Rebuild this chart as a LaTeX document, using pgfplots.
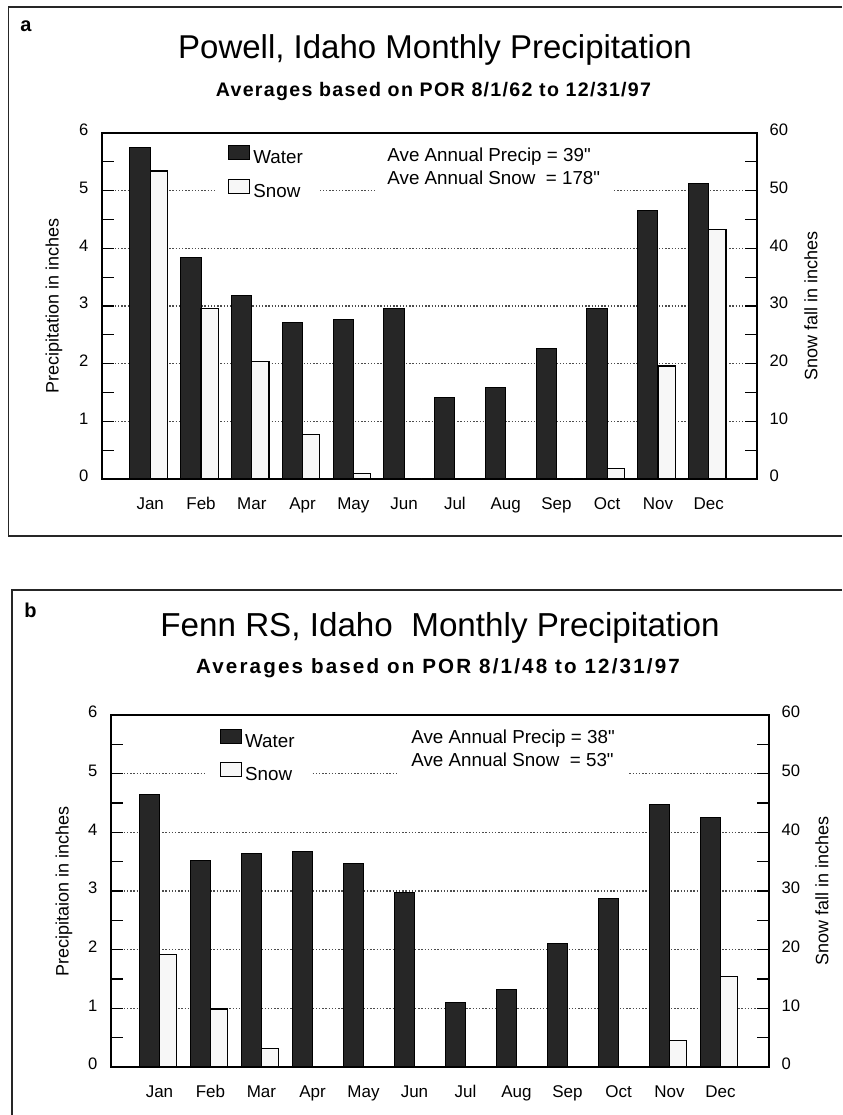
\documentclass[border=0pt]{standalone}
\usepackage{fontspec}
\setmainfont{Liberation Sans}
\newfontfamily\plainfont{Liberation Sans}
\newfontfamily\subA[LetterSpace=6.6]{Liberation Sans}
\newfontfamily\subB[LetterSpace=10.5]{Liberation Sans}
\usepackage{pgfplots}
\usepackage{pgfplotstable}
\pgfplotsset{compat=1.18}

\pgfplotstableread{
m water snow
0 5.75 53.4
1 3.84 29.6
2 3.19 20.4
3 2.72 7.7
4 2.77 0.9
5 2.96 0
6 1.42 0
7 1.58 0
8 2.26 0
9 2.95 1.8
10 4.66 19.6
11 5.13 43.2
}\powell

\pgfplotstableread{
m water snow
0 4.65 19.2
1 3.52 9.9
2 3.64 3.2
3 3.68 0
4 3.47 0
5 2.98 0
6 1.10 0
7 1.32 0
8 2.11 0
9 2.88 0.1
10 4.47 4.5
11 4.25 15.4
}\fenn

\pgfplotsset{
 swatch/.style={legend image code/.code={\draw[##1] (0pt,-0.5pt) rectangle (10.5pt,6.5pt);}},
 baseaxis/.style={
  scale only axis,
  xmin=-0.95, xmax=11.95, ymin=0,
  axis line style={black, line width=0.7pt},
  tick style={black, line width=0.6pt},
  major tick length=6pt, minor tick length=6pt,
  tick align=inside,
  /pgf/number format/assume math mode=true,
  tick label style={font=\fontsize{8.3}{9}\selectfont},
  ylabel style={font=\fontsize{9}{10}\selectfont, anchor=center},
 },
 precipaxis/.style={
  baseaxis,
  ymax=6, ytick={0,...,6}, minor y tick num=1, ytick pos=left,
  ymajorgrids,
  major grid style={black!70, line width=0.6pt, dash pattern=on 0.7pt off 0.9pt},
  xtick={0,...,11},
  xticklabels={Jan,Feb,Mar,Apr,May,Jun,Jul,Aug,Sep,Oct,Nov,Dec},
  xtick style={draw=none},
  xticklabel style={font=\fontsize{8.5}{9}\selectfont, yshift=-5.7pt},
  yticklabel style={xshift=-3.3pt, yshift=1.5pt},
  legend style={draw=none, fill=none, anchor=north west, inner sep=0pt,
    row sep=4.5pt, font=\fontsize{9.4}{11}\selectfont, nodes={inner sep=1.5pt}},
  legend cell align=left,
 },
 snowaxis/.style={
  baseaxis,
  ymax=60, ytick={0,10,...,60}, minor y tick num=1, ytick pos=right,
  xtick=\empty,
  yticklabel style={xshift=2.8pt, yshift=1.5pt},
 },
 waterbar/.style={ybar, bar width=0.4, bar shift=-0.2, fill=black!85, draw=black, line width=0.5pt, swatch},
 snowbar/.style={ybar, bar width=0.34, bar shift=0.17, fill=black!3, draw=black, line width=0.6pt, swatch},
}

\begin{document}
\begin{tikzpicture}
\path[use as bounding box, fill=white] (0pt,0pt) rectangle (421pt,557.5pt);

% frames
\draw[line width=0.8pt, black!85] (421pt,554pt) -- (4.25pt,554pt) -- (4.25pt,289.5pt) -- (421pt,289.5pt);
\draw[line width=0.8pt, black!85] (421pt,262.5pt) -- (6pt,262.5pt) -- (6pt,0pt);
\node[font=\bfseries\fontsize{10}{12}\selectfont] at (13pt,544.5pt) {a};
\node[font=\bfseries\fontsize{10}{12}\selectfont] at (15.25pt,252.5pt) {b};

% titles panel a
\node[anchor=base, font=\fontsize{16.5}{19}\selectfont, inner sep=0pt] at (217.5pt,528.4pt) {Powell, Idaho Monthly Precipitation};
\node[anchor=base, font=\subA\bfseries\fontsize{9.8}{12}\selectfont, inner sep=0pt] at (216.75pt,509.2pt) {Averages based on POR 8/1/62 to 12/31/97};

% titles panel b
\node[anchor=base, font=\fontsize{16.6}{19}\selectfont, inner sep=0pt] at (220pt,239.4pt) {Fenn RS, Idaho\ \ Monthly Precipitation};
\node[anchor=base, font=\subB\bfseries\fontsize{10.3}{12}\selectfont, inner sep=0pt] at (219pt,220.6pt) {Averages based on POR 8/1/48 to 12/31/97};

% ---------- Panel a ----------
\begin{axis}[precipaxis, at={(51pt,318pt)}, anchor=south west, width=327.5pt, height=173pt,
  ylabel={Precipitation in inches},
  ylabel style={at={(axis description cs:-0.0733,0.5)}},
  legend style={at={(axis description cs:0.192,0.966)}}]
\addplot[waterbar] table[x=m, y=water] {\powell};
\addlegendentry{Water}
\addlegendimage{fill=black!3, draw=black, line width=0.6pt, swatch}
\addlegendentry{Snow}
\fill[white] (axis cs:1.276,4.6) rectangle (axis cs:3.343,5.95);
\fill[white] (axis cs:4.446,4.6) rectangle (axis cs:9.094,5.95);
\node[anchor=base west, inner sep=0pt, font=\plainfont\fontsize{9.4}{11}\selectfont] at (axis cs:4.663,5.50) {Ave Annual Precip = 39"};
\node[anchor=base west, inner sep=0pt, font=\plainfont\fontsize{9.4}{11}\selectfont] at (axis cs:4.663,5.11) {Ave Annual Snow\ \ = 178"};
\end{axis}
\begin{axis}[snowaxis, at={(51pt,318pt)}, anchor=south west, width=327.5pt, height=173pt,
  ylabel={Snow fall in inches},
  ylabel style={at={(axis description cs:1.0824,0.5)}}]
\addplot[snowbar] table[x=m, y=snow] {\powell};
\end{axis}

% ---------- Panel b ----------
\begin{axis}[precipaxis, at={(55.5pt,24pt)}, anchor=south west, width=329pt, height=176pt,
  ylabel={Precipitaion in inches},
  ylabel style={at={(axis description cs:-0.0714,0.5)}},
  legend style={at={(axis description cs:0.165,0.962)}}]
\addplot[waterbar] table[x=m, y=water] {\fenn};
\addlegendentry{Water}
\addlegendimage{fill=black!3, draw=black, line width=0.6pt, swatch}
\addlegendentry{Snow}
\fill[white] (axis cs:0.932,4.6) rectangle (axis cs:2.971,5.95);
\fill[white] (axis cs:4.657,4.6) rectangle (axis cs:9.205,5.95);
\node[anchor=base west, inner sep=0pt, font=\plainfont\fontsize{9.4}{11}\selectfont] at (axis cs:4.931,5.509) {Ave Annual Precip = 38"};
\node[anchor=base west, inner sep=0pt, font=\plainfont\fontsize{9.4}{11}\selectfont] at (axis cs:4.931,5.117) {Ave Annual Snow\ \ = 53"};
\end{axis}
\begin{axis}[snowaxis, at={(55.5pt,24pt)}, anchor=south west, width=329pt, height=176pt,
  ylabel={Snow fall in inches},
  ylabel style={at={(axis description cs:1.0805,0.5)}}]
\addplot[snowbar] table[x=m, y=snow] {\fenn};
\end{axis}
\end{tikzpicture}
\end{document}
